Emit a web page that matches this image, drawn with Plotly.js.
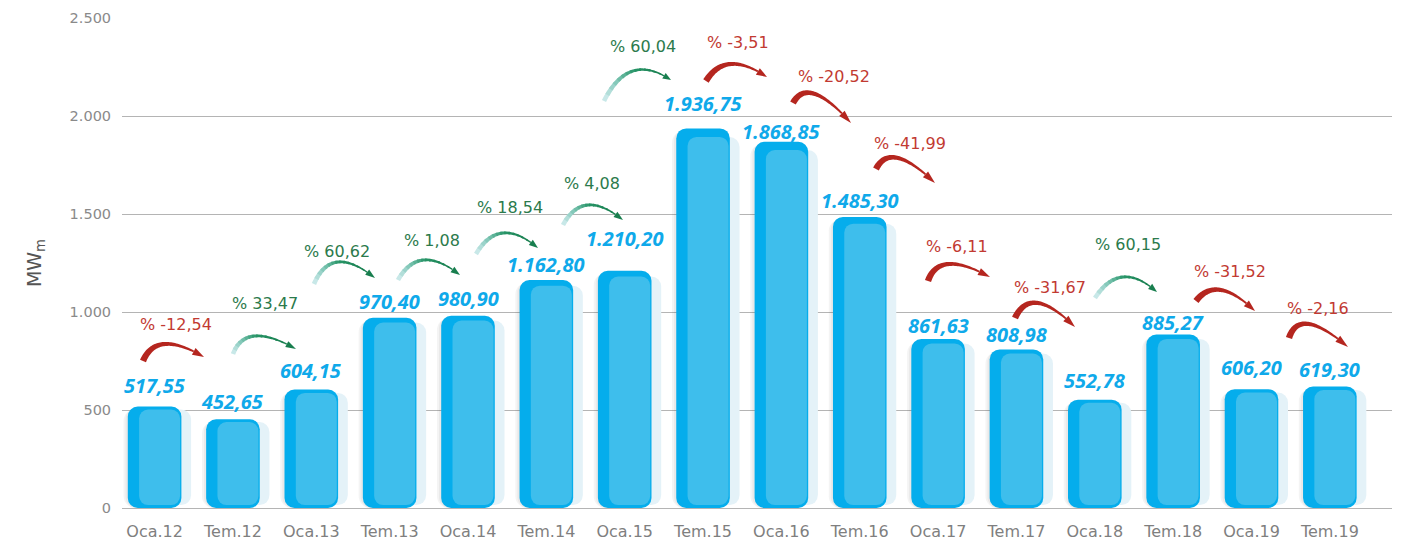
<!DOCTYPE html>
<html>
<head>
<meta charset="utf-8">
<script src="https://cdn.plot.ly/plotly-3.0.1.min.js"></script>
<style>
html,body{margin:0;padding:0;background:#ffffff;}
#chart{width:1408px;height:546px;}
</style>
</head>
<body>
<div id="chart"></div>
<script>
// ---------------- DATA ----------------
const categories = ['Oca.12','Tem.12','Oca.13','Tem.13','Oca.14','Tem.14','Oca.15','Tem.15',
                    'Oca.16','Tem.16','Oca.17','Tem.17','Oca.18','Tem.18','Oca.19','Tem.19'];
const capacityMWm = [517.55, 452.65, 604.15, 970.40, 980.90, 1162.80, 1210.20, 1936.75,
                     1868.85, 1485.30, 861.63, 808.98, 552.78, 885.27, 606.20, 619.30];
// period-over-period change (%) as printed on the chart
const changePct = [-12.54, 33.47, 60.62, 1.08, 18.54, 4.08, 60.04, -3.51,
                   -20.52, -41.99, -6.11, -31.67, 60.15, -31.52, -2.16];
const yTickVals = [0, 500, 1000, 1500, 2000, 2500];

// ---------------- LAYOUT / PLACEMENT (not data) ----------------
const W = 1408, H = 546;
const PLOT_L = 122, PLOT_R = 1392, PLOT_T = 18, PLOT_B = 508;
const Y_MAX = 2500;
const X0 = 154.6, PX_PER_CAT = 78.35;           // centre of first category, spacing
const PX_PER_UNIT = (PLOT_B - PLOT_T) / Y_MAX;
const xRange = [(PLOT_L - X0) / PX_PER_CAT, (PLOT_R - X0) / PX_PER_CAT];
const pxToX = px => (px - X0) / PX_PER_CAT;
const pxToY = py => (PLOT_B - py) / PX_PER_UNIT;

// lift (px) of each value label above its bar top
const labelLiftPx = [21, 18, 18.6, 16.6, 17.7, 15.7, 32.7, 25, 10.6, 16, 14, 15, 19, 12, 22, 17];
// curved arrow placement (page px): start, crest, tip
const arrowStartPx = [[143,361],[233,354],[314,284],[398,280],[476,254],[563,225],[604,101],[706,81],
                      [793,103],[876,169],[928,281],[1015,318],[1095,298],[1196,301],[1289,338]];
const arrowPeakPx  = [[165,344],[255,336],[338,262],[424,260],[503,233],[588,205],[633,71],[731,64],
                      [815,94],[898,158],[949,264],[1038,303],[1123,277],[1221,290],[1309,324]];
const arrowTipPx   = [[204,357],[296,349],[375,278],[460,275],[538,248],[623,220],[671,80],[767,77],
                      [851,123],[935,183],[990,277],[1075,327],[1157,292],[1255,311],[1348,347]];
const pctLabelPx   = [[176,324],[265,303],[337,251],[432,240],[510,207],[592,183],[643,46],[738,42],
                      [834,76],[910,143],[957,246],[1050,287],[1128,244],[1230,271],[1318,308]];

const BLUE_DARK = '#05ADEC', BLUE_INNER = '#3EBEEC', BLUE_PALE = '#E4F2F8';
const LABEL_BLUE = '#0FA9EA';
const RED = '#B5261F', RED_TEXT = '#C23A32', GREEN_TEXT = '#2B7A4C';

// ---------------- HELPERS ----------------
function fmtTR(v) {
  const neg = v < 0;
  const [ip, dp] = Math.abs(v).toFixed(2).split('.');
  const withDots = ip.replace(/\B(?=(\d{3})+(?!\d))/g, '.');
  return (neg ? '-' : '') + withDots + ',' + dp;
}

const xs = categories.map((_, i) => i);

function barLayer(tops, bases, color, leftPx, rightPx, radius) {
  return {type: 'bar', x: xs, base: bases, y: tops.map((t, i) => t - bases[i]),
    offset: leftPx / PX_PER_CAT, width: (rightPx - leftPx) / PX_PER_CAT,
    hoverinfo: 'skip', showlegend: false,
    marker: {color: color, cornerradius: radius, line: {width: 0}}};
}

const zeroBase = capacityMWm.map(() => 0);
const innerTop = capacityMWm.map(v => v * 0.98 - 5);
const innerBase = capacityMWm.map(() => 15);

const traces = [
  barLayer(capacityMWm.map(v => v - 12), zeroBase, 'rgba(60,60,60,0.06)', -31, 17, 12),
  barLayer(capacityMWm.map(v => v - 8), zeroBase, 'rgba(60,60,60,0.06)', -29, 17, 11),
  barLayer(innerTop, innerBase, BLUE_PALE, -5, 36.5, 10),
  barLayer(capacityMWm, zeroBase, BLUE_DARK, -26.8, 26.8, 10),
  barLayer(innerTop, innerBase, BLUE_INNER, -15.5, 25.5, 9)
];

// ---------------- ARROWS ----------------
const greenStops = [[0, [216, 239, 243]], [0.28, [128, 199, 183]], [0.58, [40, 149, 104]], [1, [24, 126, 78]]];
function greenAt(s) {
  s = Math.max(0, Math.min(1, s));
  for (let i = 0; i < greenStops.length - 1; i++) {
    const [a, ca] = greenStops[i], [b, cb] = greenStops[i + 1];
    if (s <= b) {
      const f = (s - a) / (b - a);
      return 'rgb(' + ca.map((c, j) => Math.round(c + (cb[j] - c) * f)).join(',') + ')';
    }
  }
  return 'rgb(24,126,78)';
}

function arrowShapes(k) {
  const [sx, sy] = arrowStartPx[k];
  const P = [arrowPeakPx[k][0] - sx, sy - arrowPeakPx[k][1]];
  const T = [arrowTipPx[k][0] - sx, sy - arrowTipPx[k][1]];
  const rise = changePct[k] >= 0;
  const C = [2 * P[0] - T[0] / 2, 2 * P[1] - T[1] / 2];
  const B = t => [2 * t * (1 - t) * C[0] + t * t * T[0], 2 * t * (1 - t) * C[1] + t * t * T[1]];
  const D = t => [2 * (1 - t) * C[0] + 2 * t * (T[0] - C[0]), 2 * (1 - t) * C[1] + 2 * t * (T[1] - C[1])];
  const headLen = rise ? 7 : 8, headHalf = rise ? 3.3 : 3.8;
  const w0 = rise ? 4.6 : 6.4, w1 = rise ? 1.3 : 1.8;
  let L = 0, prev = B(0);
  for (let i = 1; i <= 80; i++) { const p = B(i / 80); L += Math.hypot(p[0] - prev[0], p[1] - prev[1]); prev = p; }
  const tEnd = 1 - headLen / L;
  const segs = rise ? 14 : 1;
  const common = {type: 'path', xref: 'x', yref: 'y', xsizemode: 'pixel', ysizemode: 'pixel',
                  xanchor: pxToX(sx), yanchor: pxToY(sy), line: {width: 0}, layer: 'above'};
  const out = [];
  for (let j = 0; j < segs; j++) {
    const ta = tEnd * j / segs;
    const tb = Math.min(tEnd, tEnd * (j + 1) / segs + (j < segs - 1 ? tEnd * 0.4 / segs : 0));
    const steps = rise ? 6 : 48;
    const left = [], right = [];
    for (let i = 0; i <= steps; i++) {
      const t = ta + (tb - ta) * i / steps;
      const p = B(t), d = D(t), m = Math.hypot(d[0], d[1]);
      const nx = -d[1] / m, ny = d[0] / m;
      const s = t / tEnd;
      const hw = (w0 + (w1 - w0) * Math.pow(s, 1.2)) / 2;
      left.push([p[0] + nx * hw, p[1] + ny * hw]);
      right.push([p[0] - nx * hw, p[1] - ny * hw]);
    }
    const pts = left.concat(right.reverse());
    const path = 'M' + pts.map(q => q[0].toFixed(2) + ',' + q[1].toFixed(2)).join('L') + 'Z';
    out.push(Object.assign({}, common, {path: path, fillcolor: rise ? greenAt((ta + tb) / 2 / tEnd) : RED}));
  }
  const hb = B(tEnd);
  const dx = T[0] - hb[0], dy = T[1] - hb[1], m = Math.hypot(dx, dy);
  const nx = -dy / m, ny = dx / m;
  const head = 'M' + (hb[0] + nx * headHalf).toFixed(2) + ',' + (hb[1] + ny * headHalf).toFixed(2) +
               'L' + T[0].toFixed(2) + ',' + T[1].toFixed(2) +
               'L' + (hb[0] - nx * headHalf).toFixed(2) + ',' + (hb[1] - ny * headHalf).toFixed(2) + 'Z';
  out.push(Object.assign({}, common, {path: head, fillcolor: rise ? greenAt(1) : RED}));
  return out;
}

const shapes = [];
changePct.forEach((_, k) => shapes.push(...arrowShapes(k)));

// ---------------- ANNOTATIONS ----------------
const annotations = [];
capacityMWm.forEach((v, i) => {
  annotations.push({x: i, y: v, xref: 'x', yref: 'y', text: fmtTR(v), showarrow: false,
    xanchor: 'center', yanchor: 'middle', yshift: labelLiftPx[i],
    font: {family: 'Open Sans, sans-serif', size: 20, color: LABEL_BLUE, weight: 700, style: 'italic'}});
});
changePct.forEach((p, k) => {
  annotations.push({x: pxToX(pctLabelPx[k][0]), y: pxToY(pctLabelPx[k][1]), xref: 'x', yref: 'y',
    text: '% ' + fmtTR(p), showarrow: false, xanchor: 'center', yanchor: 'middle',
    font: {family: 'DejaVu Sans, sans-serif', size: 16, color: p >= 0 ? GREEN_TEXT : RED_TEXT}});
});

const layout = {
  width: W, height: H,
  margin: {l: PLOT_L, r: W - PLOT_R, t: PLOT_T, b: H - PLOT_B, pad: 0},
  paper_bgcolor: '#ffffff', plot_bgcolor: '#ffffff',
  separators: ',.',
  barmode: 'overlay',
  showlegend: false,
  xaxis: {type: 'linear', range: xRange, tickvals: xs, ticktext: categories,
    showgrid: false, zeroline: false, showline: false,
    ticks: 'outside', ticklen: 9, tickcolor: 'rgba(0,0,0,0)',
    tickfont: {family: 'DejaVu Sans, sans-serif', size: 16, color: '#7f7f7f'}, fixedrange: true},
  yaxis: {range: [0, Y_MAX], tickvals: yTickVals, tickformat: ',d',
    showgrid: true, gridcolor: '#b4b4b4', gridwidth: 1,
    zeroline: true, zerolinecolor: '#b4b4b4', zerolinewidth: 1, showline: false,
    ticks: 'outside', ticklen: 7, tickcolor: 'rgba(0,0,0,0)',
    tickfont: {family: 'DejaVu Sans, sans-serif', size: 14.5, color: '#8a8a8a'},
    title: {text: 'MW<sub>m</sub>', standoff: 22, font: {family: 'DejaVu Sans, sans-serif', size: 19, color: '#555555'}},
    automargin: false, fixedrange: true},
  shapes: shapes,
  annotations: annotations
};

Plotly.newPlot('chart', traces, layout, {displayModeBar: false, staticPlot: true});
</script>
</body>
</html>
